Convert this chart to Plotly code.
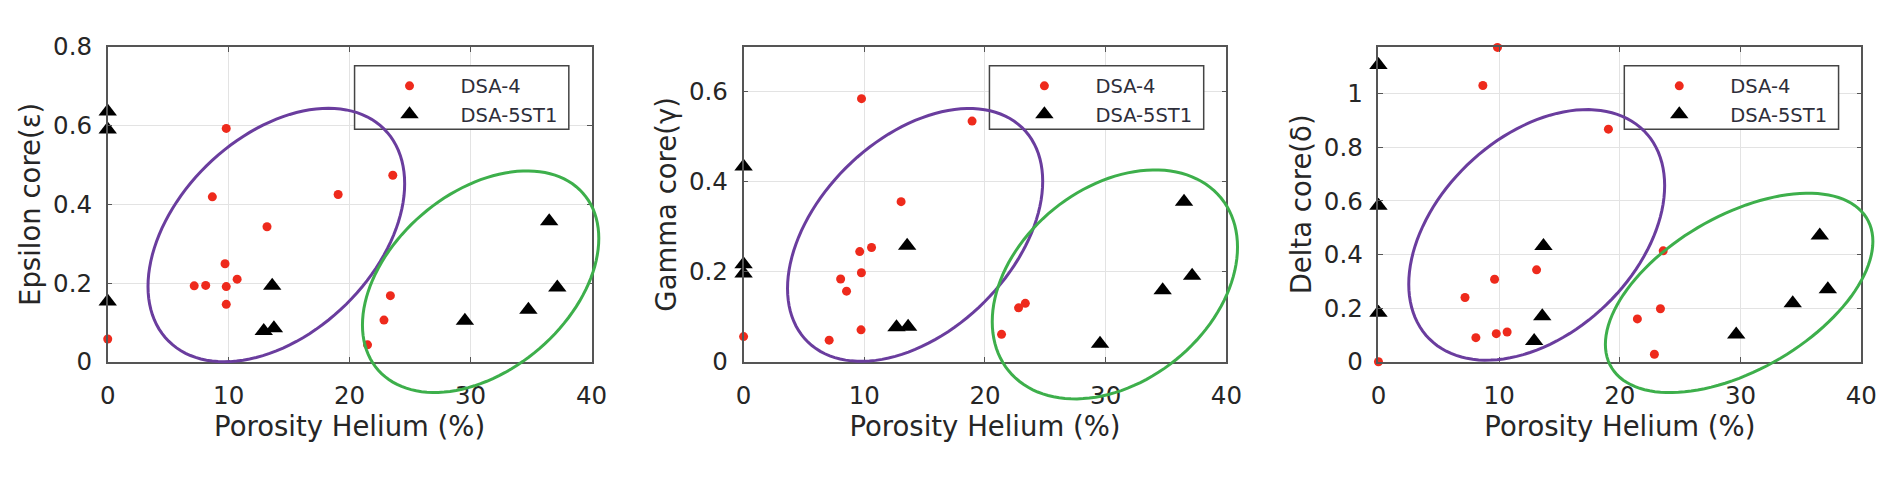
import math
import plotly.graph_objects as go

W, H = 1899, 483

# ---------------- data ----------------
porosity_label = "Porosity Helium (%)"
series_names = ["DSA-4", "DSA-5ST1"]
y_titles = ["Epsilon core(ε)", "Gamma core(γ)", "Delta core(δ)"]

x_ticks = [0, 10, 20, 30, 40]
y_ticks_eps = [0, 0.2, 0.4, 0.6, 0.8]
y_ticks_gam = [0, 0.2, 0.4, 0.6]
y_ticks_del = [0, 0.2, 0.4, 0.6, 0.8, 1]

eps_dsa4_x = [0, 7.15, 8.1, 8.65, 9.8, 9.7, 9.8, 9.8, 10.7, 13.17, 19.05, 23.57, 23.37, 22.84, 21.48]
eps_dsa4_y = [0.058, 0.193, 0.194, 0.419, 0.593, 0.249, 0.191, 0.146, 0.21, 0.343, 0.425, 0.474, 0.168, 0.106, 0.043]
eps_5st1_x = [0, 0, 0, 13.6, 12.9, 13.74, 29.53, 34.78, 36.5, 37.17]
eps_5st1_y = [0.636, 0.59, 0.153, 0.193, 0.078, 0.085, 0.104, 0.132, 0.357, 0.189]

gam_dsa4_x = [0, 7.09, 8.04, 8.53, 9.62, 9.73, 9.76, 9.77, 10.6, 13.05, 18.93, 21.37, 22.78, 23.34]
gam_dsa4_y = [0.056, 0.048, 0.184, 0.157, 0.245, 0.071, 0.198, 0.585, 0.254, 0.356, 0.535, 0.061, 0.120, 0.130]
gam_5st1_x = [0, 0, 0, 13.55, 12.67, 13.63, 29.53, 34.72, 36.49, 37.16]
gam_5st1_y = [0.434, 0.217, 0.196, 0.258, 0.077, 0.078, 0.040, 0.159, 0.356, 0.191]

del_dsa4_x = [0, 7.17, 8.07, 8.65, 9.62, 9.86, 9.76, 10.66, 13.1, 19.05, 23.59, 23.36, 21.45, 22.86]
del_dsa4_y = [0.0, 0.240, 0.090, 1.031, 0.308, 1.173, 0.105, 0.111, 0.343, 0.868, 0.414, 0.198, 0.160, 0.028]
del_5st1_x = [0, 0, 0, 13.67, 13.57, 12.9, 29.64, 34.32, 36.56, 37.23]
del_5st1_y = [1.107, 0.582, 0.183, 0.432, 0.170, 0.078, 0.1015, 0.218, 0.471, 0.271]

# ellipse outlines (centre X, centre Y, half-width X, half-height Y, top-point X offset)
ell_purple = [(13.94, 0.322, 10.61, 0.322, 4.3),
              (14.21, 0.282, 10.57, 0.281, 4.48),
              (13.11, 0.4735, 10.6, 0.4675, 4.17)]
ell_green = [(30.83, 0.2035, 9.77, 0.2815, 3.82),
             (30.76, 0.172, 10.16, 0.2545, 3.31),
             (29.88, 0.257, 11.08, 0.372, 5.72)]

# ---------------- layout geometry ----------------
x_px = [(101, 591), (745, 1234), (1388, 1877)]
y_px = (35, 370)
x_range = [0, 40]
y_ranges = [[0, 0.8], [0, 0.7], [0, 1.175]]
y_ticks_all = [y_ticks_eps, y_ticks_gam, y_ticks_del]

xdoms = [[a / W, b / W] for a, b in x_px]
ydom = [(H - y_px[1]) / H, (H - y_px[0]) / H]

RED = "#ee2a1c"
PURPLE = "#6a3d9e"
GREEN = "#3daf4b"
AXC = "#555555"
TXT = "#262626"
FONT = "DejaVu Sans, sans-serif"

ITEMW = 92

fig = go.Figure()

panels = [
    (eps_dsa4_x, eps_dsa4_y, eps_5st1_x, eps_5st1_y),
    (gam_dsa4_x, gam_dsa4_y, gam_5st1_x, gam_5st1_y),
    (del_dsa4_x, del_dsa4_y, del_5st1_x, del_5st1_y),
]

for i, (rx, ry, tx, ty) in enumerate(panels):
    sfx = "" if i == 0 else str(i + 1)
    leg = "legend" + sfx
    fig.add_trace(go.Scatter(
        x=rx, y=ry, mode="markers", name=series_names[0],
        xaxis="x" + sfx, yaxis="y" + sfx, legend=leg, cliponaxis=False,
        marker=dict(symbol="circle", size=9, color=RED, line=dict(width=0)),
    ))
    fig.add_trace(go.Scatter(
        x=tx, y=ty, mode="markers", name=series_names[1],
        xaxis="x" + sfx, yaxis="y" + sfx, legend=leg, cliponaxis=False,
        marker=dict(symbol="triangle-up", size=16, color="black", line=dict(width=0)),
    ))

layout = dict(
    width=W, height=H,
    margin=dict(l=0, r=0, t=0, b=0),
    paper_bgcolor="white", plot_bgcolor="white",
    font=dict(family=FONT, color=TXT),
    showlegend=True,
)

def to_paper(i, X, Y):
    x0, x1 = xdoms[i]
    y0, y1 = ydom
    r0, r1 = x_range
    s0, s1 = y_ranges[i]
    return (x0 + (X - r0) / (r1 - r0) * (x1 - x0),
            y0 + (Y - s0) / (s1 - s0) * (y1 - y0))

shapes = []
for i in range(3):
    sfx = "" if i == 0 else str(i + 1)
    axis_common = dict(
        showline=True, linecolor=AXC, linewidth=1.5, mirror="ticks",
        ticks="inside", ticklen=5, tickcolor=AXC, tickwidth=1,
        showgrid=True, gridcolor="#e3e3e3", gridwidth=1,
        zeroline=False, tickfont=dict(size=24.5, color=TXT, family=FONT),
    )
    xa = dict(axis_common)
    xa.update(domain=xdoms[i], range=x_range, tickvals=x_ticks,
              ticktext=[str(v) for v in x_ticks], anchor="y" + sfx,
              ticklabelstandoff=11,
              title=dict(text=porosity_label, font=dict(size=27.5, color=TXT, family=FONT), standoff=6))
    ya = dict(axis_common)
    ya.update(domain=ydom, range=y_ranges[i], tickvals=y_ticks_all[i],
              ticktext=[("%g" % v) for v in y_ticks_all[i]], anchor="x" + sfx,
              ticklabelstandoff=9,
              title=dict(text=y_titles[i], font=dict(size=27.5, color=TXT, family=FONT), standoff=4))
    layout["xaxis" + sfx] = xa
    layout["yaxis" + sfx] = ya

    # legend box (white, framed) and legend
    rpx = x_px[i][1]
    bleft = rpx - 240
    shapes.append(dict(type="rect", xref="paper", yref="paper",
                       x0=bleft / W, x1=(rpx - 23) / W,
                       y0=(H - 122.7) / H, y1=(H - 55) / H,
                       fillcolor="white", line=dict(color="#444444", width=1.5),
                       layer="above"))
    layout["legend" + sfx] = dict(
        x=(bleft + 55 - (ITEMW + 10) / 2) / W, y=(H - 56) / H,
        xanchor="left", yanchor="top",
        bgcolor="rgba(0,0,0,0)", borderwidth=0,
        font=dict(size=19.5, color="#2e2e3a", family=FONT),
        itemwidth=ITEMW, tracegroupgap=0,
    )

# ellipses
for i in range(3):
    for params, col in ((ell_purple[i], PURPLE), (ell_green[i], GREEN)):
        cx, cy, hw, hh, d = params
        phi = math.acos(d / hw)
        pts = []
        n = 120
        for k in range(n + 1):
            t = 2 * math.pi * k / n
            X = cx + hw * math.cos(t)
            Y = cy + hh * math.cos(t - phi)
            pts.append(to_paper(i, X, Y))
        path = "M " + " L ".join("%.5f,%.5f" % p for p in pts) + " Z"
        shapes.append(dict(type="path", xref="paper", yref="paper", path=path,
                           line=dict(color=col, width=3), layer="above"))

layout["shapes"] = shapes
fig.update_layout(**layout)
fig.write_html("out.html", config={"displayModeBar": False},
               post_script="document.body.style.margin='0px';document.body.style.overflow='hidden';")
